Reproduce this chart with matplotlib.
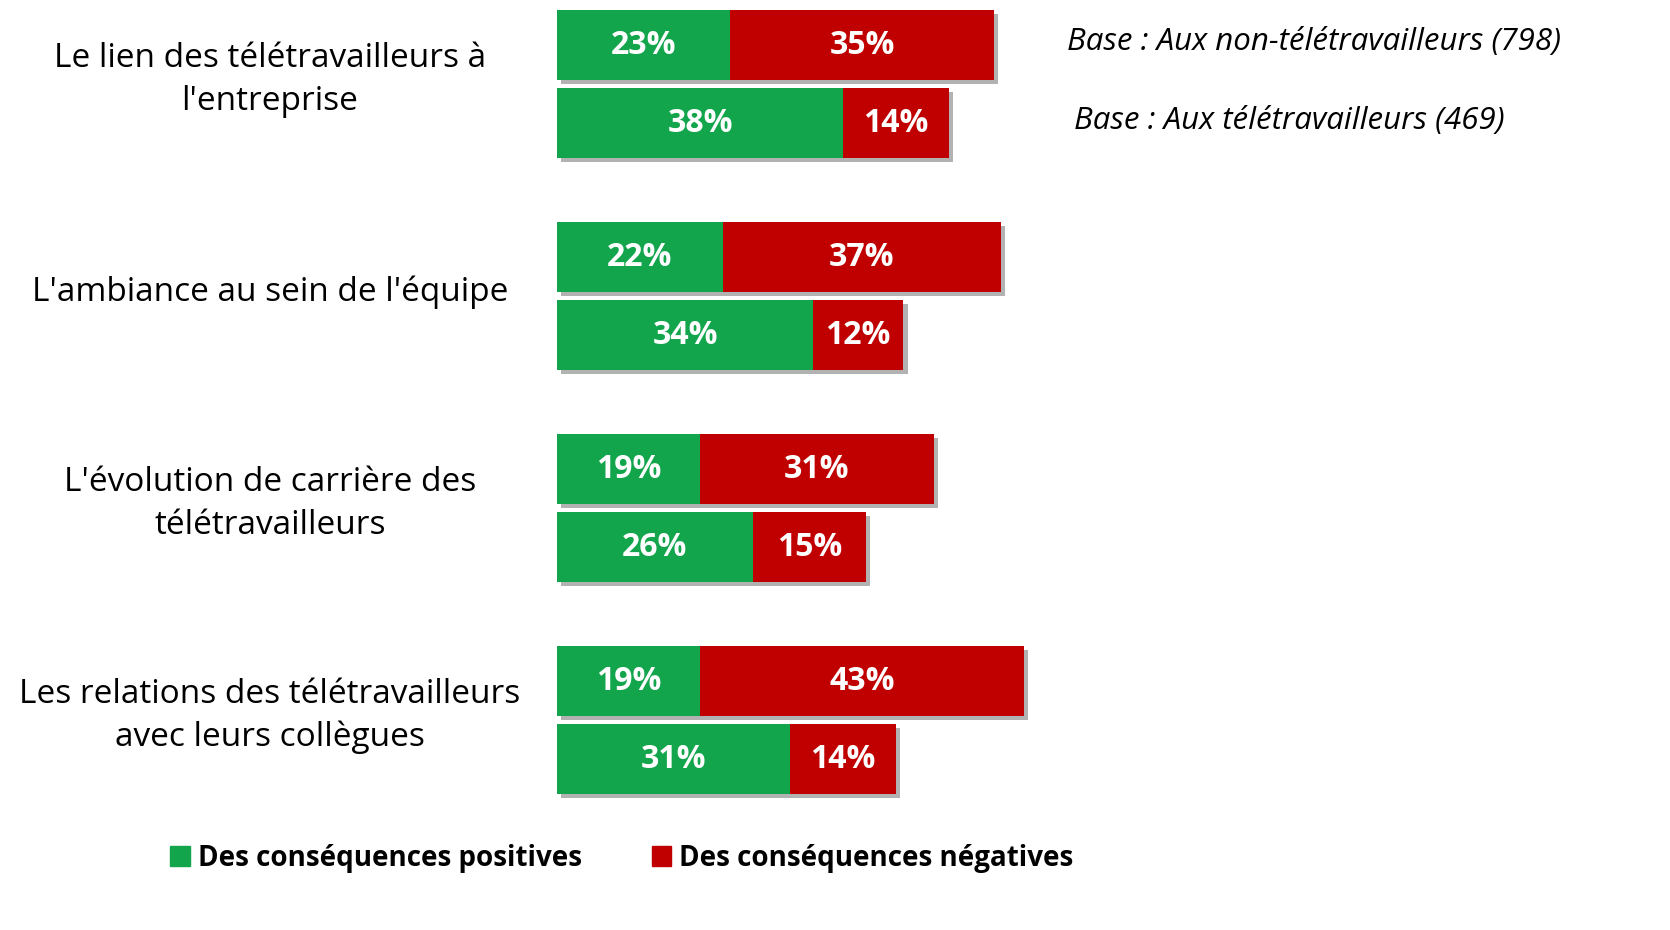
import matplotlib.pyplot as plt
import matplotlib.patheffects as pe
from matplotlib.patches import Patch

categories = ["Le lien des télétravailleurs à\nl'entreprise",
              "L'ambiance au sein de l'équipe",
              "L'évolution de carrière des\ntélétravailleurs",
              "Les relations des télétravailleurs\navec leurs collègues"]
# non-télétravailleurs (top bar), télétravailleurs (bottom bar)
pos_non = [23, 22, 19, 19]
neg_non = [35, 37, 31, 43]
pos_tele = [38, 34, 26, 31]
neg_tele = [14, 12, 15, 14]

green = "#12A54C"
red = "#C00000"
plt.rcParams['font.family'] = ['Open Sans', 'DejaVu Sans']

W, H = 1670, 930
fig = plt.figure(figsize=(W / 100, H / 100), dpi=100)
x0 = 557
pxp = 7.53  # pixels per percent
ax = fig.add_axes([x0 / W, 0, 1 - x0 / W, 1])
ax.set_xlim(0, (W - x0) / pxp)
gs = 212.0
ax.set_ylim((H - 84) / gs, -84 / gs)
ax.axis('off')

bh = 70 / gs
off = 39 / gs
shadow = [pe.SimplePatchShadow(offset=(3, -3), shadow_rgbFace='gray', alpha=0.6), pe.Normal()]

for i in range(len(categories)):
    for y, p, n in [(i - off, pos_non[i], neg_non[i]), (i + off, pos_tele[i], neg_tele[i])]:
        b1 = ax.barh(y, p, height=bh, color=green)
        b2 = ax.barh(y, n, left=p, height=bh, color=red)
        for b in list(b1) + list(b2):
            b.set_path_effects(shadow)
        ax.text(p / 2, y, f"{p}%", ha='center', va='center', color='white',
                fontsize=23, fontweight='bold')
        ax.text(p + n / 2, y, f"{n}%", ha='center', va='center', color='white',
                fontsize=23, fontweight='bold')
    ax.text((270 - x0) / pxp, i - 0.02, categories[i], ha='center', va='center',
            fontsize=24, linespacing=1.38, clip_on=False)

fig.text(1067 / W, 1 - 42 / H, "Base : Aux non-télétravailleurs (798)", fontsize=22.5,
         style='italic', ha='left', va='center')
fig.text(1074 / W, 1 - 121 / H, "Base : Aux télétravailleurs (469)", fontsize=22.5,
         style='italic', ha='left', va='center')

handles = [Patch(color=green, label="Des conséquences positives"),
           Patch(color=red, label="Des conséquences négatives")]
fig.legend(handles=handles, loc='center', bbox_to_anchor=(622 / W, 1 - 858 / H), ncol=2,
           frameon=False, prop={'size': 20, 'weight': 'bold'}, handlelength=0.7,
           handleheight=0.7, handletextpad=0.3, columnspacing=2.5)

fig.savefig("out.png", dpi=100)
